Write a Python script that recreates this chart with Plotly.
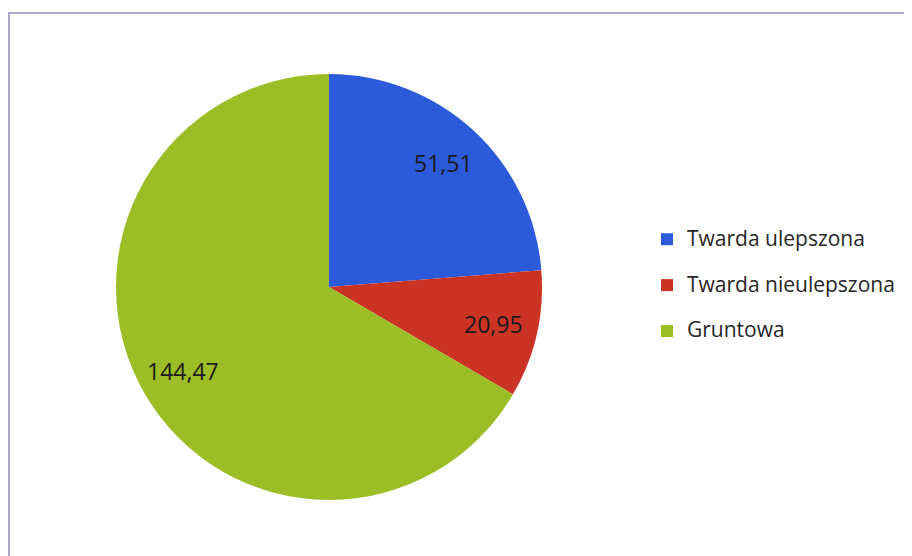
import math
import plotly.graph_objects as go

# surface type -> length
categories = ["Twarda ulepszona", "Twarda nieulepszona", "Gruntowa"]
values = [51.51, 20.95, 144.47]
value_labels = ["51,51", "20,95", "144,47"]
colors = ["#2b5bd8", "#cb3424", "#9bbd25"]

W, H = 912, 556
# page body has an 8px margin, so figure coords = screen coords - 8
cx, cy, r = 321, 279, 213

fig = go.Figure()
fig.add_trace(go.Pie(
    labels=["<span style='font-size:21px'>%s</span><br> " % c for c in categories],
    values=values,
    textinfo="none",
    hoverinfo="value",
    marker=dict(colors=colors, line=dict(width=0)),
    sort=False,
    direction="clockwise",
    rotation=0,
    domain=dict(x=[(cx - r) / W, (cx + r) / W], y=[1 - (cy + r) / H, 1 - (cy - r) / H]),
))

# value labels placed like Excel: on the slice mid-angle at ~0.79 R
total = sum(values)
acc = 0
for v, t in zip(values, value_labels):
    ang = 2 * math.pi * (acc + v / 2) / total
    acc += v
    px_ = cx + 0.79 * r * math.sin(ang)
    py_ = cy - 0.79 * r * math.cos(ang)
    fig.add_annotation(x=px_ / W, y=1 - py_ / H, xref="paper", yref="paper",
                       xanchor="center", yanchor="middle",
                       text=t, showarrow=False,
                       font=dict(family="Open Sans", size=23, color="#1a1a1a"))

# chart border (open towards right/bottom, as cropped)
fig.add_shape(type="rect", xref="paper", yref="paper",
              x0=1 / W, x1=1.1, y0=-0.1, y1=1 - 5 / H,
              line=dict(color="#a9a9cc", width=2))

fig.update_layout(
    width=W, height=H,
    margin=dict(l=0, r=0, t=0, b=0),
    paper_bgcolor="white",
    font=dict(family="Open Sans", size=16.5, color="#262626"),
    legend=dict(x=639 / W, xanchor="left", y=0.482, yanchor="middle",
                valign="top", bgcolor="rgba(0,0,0,0)"),
    showlegend=True,
)

fig.write_html("out.html")
